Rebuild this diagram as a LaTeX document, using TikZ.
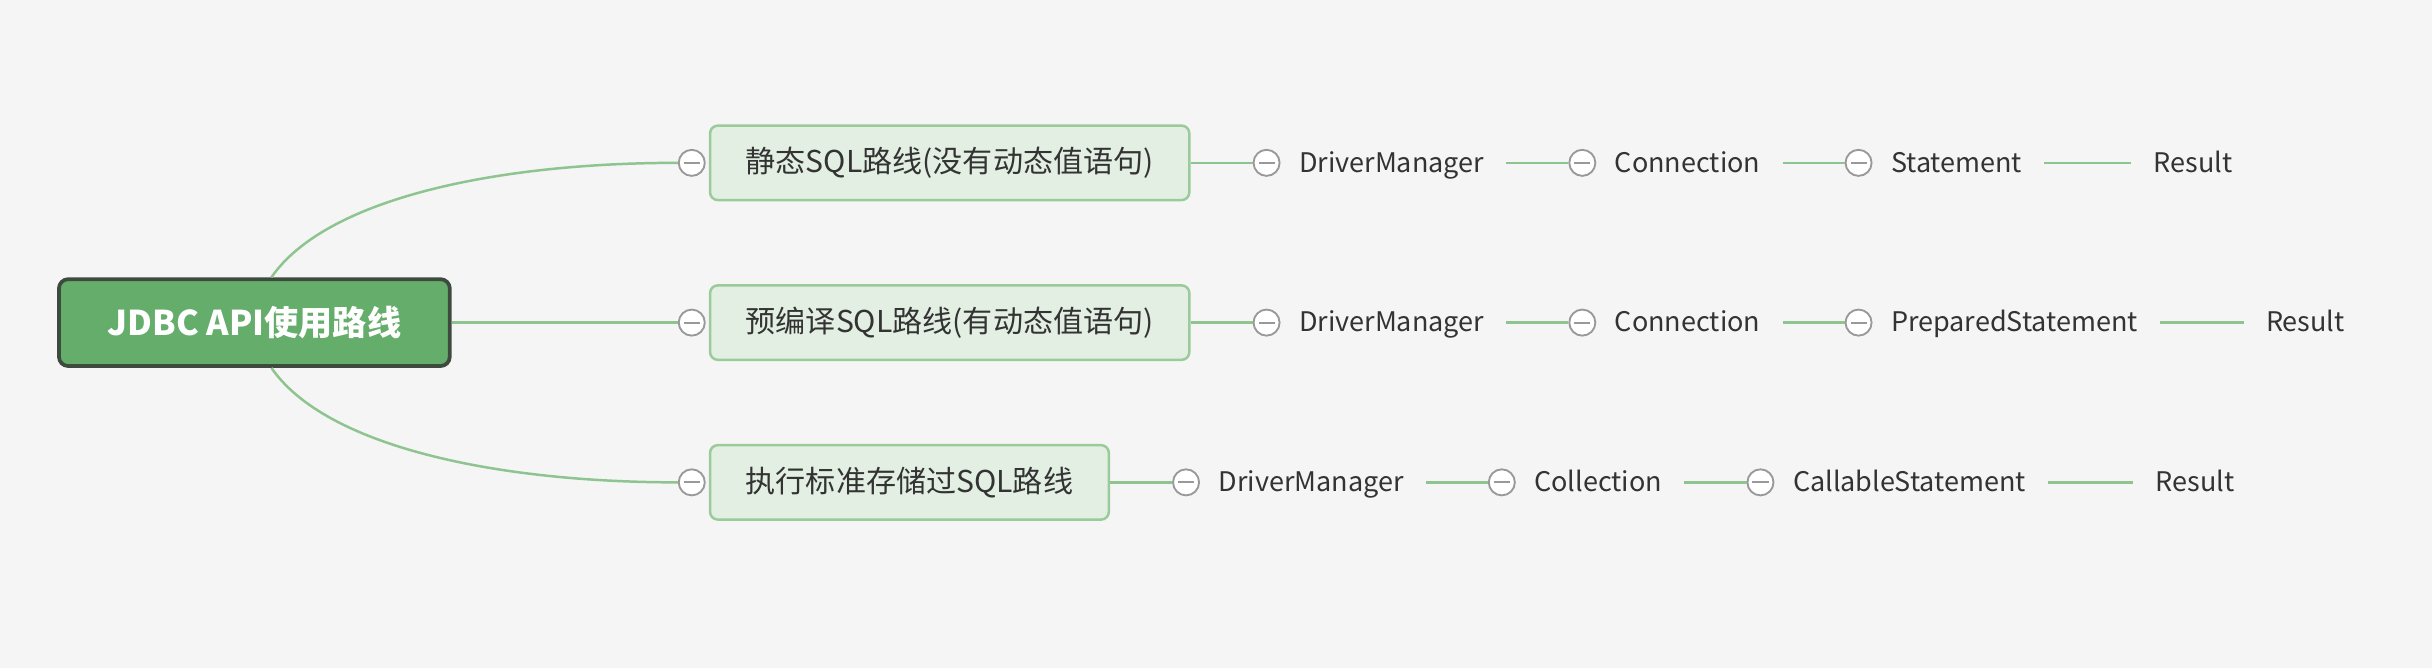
\documentclass[tikz,border=0pt]{standalone}
\usepackage{fontspec}
\setmainfont{Noto Sans CJK SC}
\usetikzlibrary{positioning}

\definecolor{bgcol}{HTML}{F5F5F5}
\definecolor{rootfill}{HTML}{65AD6B}
\definecolor{rootdraw}{HTML}{3E4A3E}
\definecolor{subfill}{HTML}{E3EFE3}
\definecolor{subdraw}{HTML}{9ACB9A}
\definecolor{linkcol}{HTML}{8DC48F}
\definecolor{txtcol}{HTML}{333333}

\begin{document}
\begin{tikzpicture}[
  x=0.5pt, y=-0.5pt,
  root/.style = {draw=rootdraw, line width=1.2pt, fill=rootfill, rounded corners=3pt,
    minimum width=126pt, minimum height=28pt, text=white, font=\fontsize{11}{12}\selectfont\bfseries},
  topic/.style = {draw=subdraw, line width=0.8pt, fill=subfill, rounded corners=2.5pt,
    minimum height=24pt, inner xsep=11.5pt, text=txtcol, font=\fontsize{9.7}{11}\selectfont},
  leaf/.style = {inner xsep=7pt, inner ysep=2pt, text height=6.6pt, text depth=0.6pt,
    text=txtcol, font=\fontsize{8.7}{10}\selectfont},
  fold/.style = {circle, draw=gray!80, fill=white, line width=0.6pt, minimum size=8.4pt, inner sep=0pt,
    path picture={\draw[gray!80, line width=0.6pt] ([xshift=-2.6pt]path picture bounding box.center) -- ([xshift=2.6pt]path picture bounding box.center);}},
  link/.style = {draw=linkcol, line width=0.8pt},
  node distance=20pt
]

  % background
  \fill[bgcol] (0,0) rectangle (1568,431);
  \useasboundingbox (0,0) rectangle (1568,431);

  % Root
  \node[root] (root) at (164,208) {JDBC API使用路线};

  % Three routes
  \node[topic, anchor=west] (static) at (457,105) {静态SQL路线(没有动态值语句)};
  \node[topic, anchor=west] (prep) at (457,208) {预编译SQL路线(有动态值语句)};
  \node[topic, anchor=west] (proc) at (457,311) {执行标准存储过SQL路线};

  \node[fold, left=1pt of static] (fstatic) {};
  \node[fold, left=1pt of prep] (fprep) {};
  \node[fold, left=1pt of proc] (fproc) {};

  % Root -> routes
  \coordinate (rtop) at ([xshift=5.5pt]root.north);
  \coordinate (rbot) at ([xshift=5.5pt]root.south);
  \draw[link] (rtop) .. controls (210,128) and (320,105) .. (fstatic.west);
  \draw[link] (root.east) -- (fprep.west);
  \draw[link] (rbot) .. controls (210,288) and (320,311) .. (fproc.west);

  % Static route
  \node[fold, right=of static] (f1a) {};
  \node[leaf, right=-1.2pt of f1a] (dm1) {DriverManager};
  \node[fold, right=of dm1] (f1b) {};
  \node[leaf, right=-1.2pt of f1b] (con1) {Connection};
  \node[fold, right=of con1] (f1c) {};
  \node[leaf, right=-1.2pt of f1c] (st1) {Statement};
  \node[leaf, right=28pt of st1] (res1) {Result};
  \draw[link] (static.east) -- (f1a.west);
  \draw[link] (dm1.east) -- (f1b.west);
  \draw[link] (con1.east) -- (f1c.west);
  \draw[link] (st1.east) -- (res1.west);

  % Prepared route
  \node[fold, right=of prep] (f2a) {};
  \node[leaf, right=-1.2pt of f2a] (dm2) {DriverManager};
  \node[fold, right=of dm2] (f2b) {};
  \node[leaf, right=-1.2pt of f2b] (con2) {Connection};
  \node[fold, right=of con2] (f2c) {};
  \node[leaf, right=-1.2pt of f2c] (st2) {PreparedStatement};
  \node[leaf, right=27pt of st2] (res2) {Result};
  \draw[link] (prep.east) -- (f2a.west);
  \draw[link] (dm2.east) -- (f2b.west);
  \draw[link] (con2.east) -- (f2c.west);
  \draw[link] (st2.east) -- (res2.west);

  % Stored procedure route
  \node[fold, right=of proc] (f3a) {};
  \node[leaf, right=-1.2pt of f3a] (dm3) {DriverManager};
  \node[fold, right=of dm3] (f3b) {};
  \node[leaf, right=-1.2pt of f3b] (col3) {Collection};
  \node[fold, right=of col3] (f3c) {};
  \node[leaf, right=-1.2pt of f3c] (st3) {CallableStatement};
  \node[leaf, right=27.5pt of st3] (res3) {Result};
  \draw[link] (proc.east) -- (f3a.west);
  \draw[link] (dm3.east) -- (f3b.west);
  \draw[link] (col3.east) -- (f3c.west);
  \draw[link] (st3.east) -- (res3.west);

\end{tikzpicture}
\end{document}
